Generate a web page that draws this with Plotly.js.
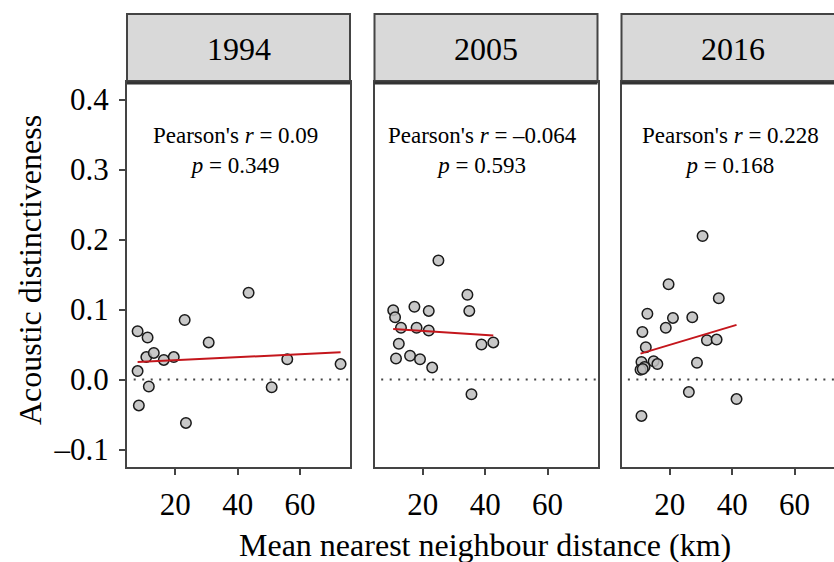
<!DOCTYPE html>
<html>
<head>
<meta charset="utf-8">
<script src="https://cdn.plot.ly/plotly-3.0.1.min.js"></script>
<style>html,body{margin:0;padding:0;background:#fff;}#chart{width:834px;height:562px;}</style>
</head>
<body>
<div id="chart"></div>
<script>
// ---- data ----
const years = ["1994", "2005", "2016"];
const statsR = ["0.09", "–0.064", "0.228"];
const statsP = ["0.349", "0.593", "0.168"];

const x1994 = [7.9, 11.1, 23.0, 43.5, 30.7, 10.7, 13.1, 16.3, 19.5, 7.9, 11.5, 8.3, 23.4, 50.9, 55.9, 73.0];
const y1994 = [0.069, 0.060, 0.085, 0.124, 0.053, 0.032, 0.038, 0.028, 0.032, 0.012, -0.010, -0.037, -0.062, -0.011, 0.029, 0.022];

const x2005 = [25.0, 34.3, 34.9, 10.5, 11.1, 17.3, 21.9, 13.0, 18.0, 21.9, 12.3, 11.4, 15.9, 19.1, 23.0, 38.8, 42.6, 35.6];
const y2005 = [0.170, 0.121, 0.098, 0.099, 0.089, 0.104, 0.098, 0.074, 0.074, 0.070, 0.051, 0.030, 0.034, 0.029, 0.017, 0.050, 0.053, -0.021];

const x2016 = [30.5, 19.6, 35.7, 12.8, 21.0, 27.2, 18.7, 11.2, 12.3, 31.9, 35.0, 10.9, 14.8, 16.0, 11.9, 10.6, 11.3, 28.7, 26.1, 41.4, 10.9];
const y2016 = [0.205, 0.136, 0.116, 0.094, 0.088, 0.089, 0.074, 0.068, 0.046, 0.056, 0.057, 0.025, 0.026, 0.022, 0.018, 0.014, 0.015, 0.024, -0.018, -0.028, -0.052];

// fitted regression line end points
const fitX1994 = [7.9, 73.0], fitY1994 = [0.025, 0.039];
const fitX2005 = [10.5, 42.6], fitY2005 = [0.072, 0.063];
const fitX2016 = [10.6, 41.4], fitY2016 = [0.037, 0.078];

const xTickVals = [20, 40, 60];
const xTickText = ["20", "40", "60"];
const yTickVals = [-0.1, 0, 0.1, 0.2, 0.3, 0.4];
const yTickText = ["–0.1", "0.0", "0.1", "0.2", "0.3", "0.4"];

// ---- layout geometry (pixels) ----
const W = 834, H = 562;
const FONT = "Liberation Serif, Times New Roman, serif";
const pxPerUnit = 3.118;
const xMin = 4.5;
const panelLeft = [127, 374.5, 621.5];
const panelW = 223;
const plotTop = 82, plotBot = 467, stripTop = 14;
const yRange = [-0.125, 0.425];
const px = v => v / W;
const py = v => (H - v) / H;

const xs = [x1994, x2005, x2016], ys = [y1994, y2005, y2016];
const fxs = [fitX1994, fitX2005, fitX2016], fys = [fitY1994, fitY2005, fitY2016];

const traces = [];
const layout = {
  width: W, height: H,
  margin: {l: 0, r: 0, t: 0, b: 0},
  paper_bgcolor: "#fff", plot_bgcolor: "#fff",
  showlegend: false,
  font: {family: FONT, color: "#000"},
  shapes: [], annotations: []
};

for (let i = 0; i < 3; i++) {
  const ax = i === 0 ? "" : String(i + 1);
  const left = panelLeft[i];
  const right = Math.min(left + panelW, W);
  const xMax = xMin + (right - left) / pxPerUnit;
  const xa = "x" + ax, ya = "y" + ax;

  traces.push({
    x: xs[i], y: ys[i], xaxis: xa, yaxis: ya, type: "scatter", mode: "markers",
    marker: {size: 10.5, color: "rgba(190,190,190,0.85)", line: {color: "#1a1a1a", width: 1.5}},
    hoverinfo: "x+y"
  });
  traces.push({
    x: fxs[i], y: fys[i], xaxis: xa, yaxis: ya, type: "scatter", mode: "lines",
    line: {color: "#c4161c", width: 2}, hoverinfo: "skip"
  });

  layout["xaxis" + ax] = {
    domain: [px(left), px(right)], range: [xMin, xMax], anchor: ya,
    showgrid: false, zeroline: false,
    showline: true, linecolor: "#444", linewidth: 2, mirror: true,
    ticks: "outside", ticklen: 6, tickwidth: 2, tickcolor: "#444",
    tickvals: xTickVals, ticktext: xTickText,
    tickfont: {family: FONT, size: 31, color: "#000"}, ticklabelstandoff: 3
  };
  layout["yaxis" + ax] = {
    domain: [py(plotBot), py(plotTop)], range: yRange, anchor: xa,
    showgrid: false, zeroline: false,
    showline: true, linecolor: "#444", linewidth: 2, mirror: i < 2,
    ticks: i === 0 ? "outside" : "", ticklen: 6, tickwidth: 2, tickcolor: "#444",
    tickvals: yTickVals, ticktext: yTickText, showticklabels: i === 0,
    tickfont: {family: FONT, size: 31, color: "#000"}, ticklabelstandoff: 4
  };

  // zero reference line
  layout.shapes.push({
    type: "line", xref: xa + " domain", yref: ya, x0: 0.03, x1: 1, y0: 0, y1: 0,
    line: {color: "#444", width: 2, dash: "2px,6.5px"}, layer: "below"
  });
  // strip
  layout.shapes.push({
    type: "rect", xref: "paper", yref: "paper",
    x0: px(left), x1: px(i < 2 ? right : W + 20), y0: py(plotTop), y1: py(stripTop),
    fillcolor: "#d9d9d9", line: {color: "#444", width: 2}, layer: "below"
  });
  layout.shapes.push({
    type: "line", xref: "paper", yref: "paper",
    x0: px(left), x1: px(i < 2 ? right : W), y0: py(plotTop + 1), y1: py(plotTop + 1),
    line: {color: "#333", width: 3}
  });
  layout.annotations.push({
    xref: "paper", yref: "paper", x: px(left + panelW / 2), y: py((stripTop + plotTop) / 2 + 1),
    text: years[i], showarrow: false, xanchor: "center", yanchor: "middle",
    font: {family: FONT, size: 32, color: "#000"}
  });
  layout.annotations.push({
    xref: "paper", yref: "paper", x: px(left + panelW / 2 - 3), y: py(151),
    text: "Pearson's <i>r</i> = " + statsR[i] + "<br><i>p</i> = " + statsP[i],
    showarrow: false, xanchor: "center", yanchor: "middle", align: "center",
    font: {family: FONT, size: 23, color: "#000"}
  });
}

layout.annotations.push({
  xref: "paper", yref: "paper", x: px(30), y: py(270),
  text: "Acoustic distinctiveness", textangle: -90, showarrow: false,
  xanchor: "center", yanchor: "middle", font: {family: FONT, size: 32, color: "#000"}
});
layout.annotations.push({
  xref: "paper", yref: "paper", x: px(485), y: py(545),
  text: "Mean nearest neighbour distance (km)", showarrow: false,
  xanchor: "center", yanchor: "middle", font: {family: FONT, size: 32, color: "#000"}
});

Plotly.newPlot("chart", traces, layout, {displayModeBar: false, staticPlot: true});
</script>
</body>
</html>
